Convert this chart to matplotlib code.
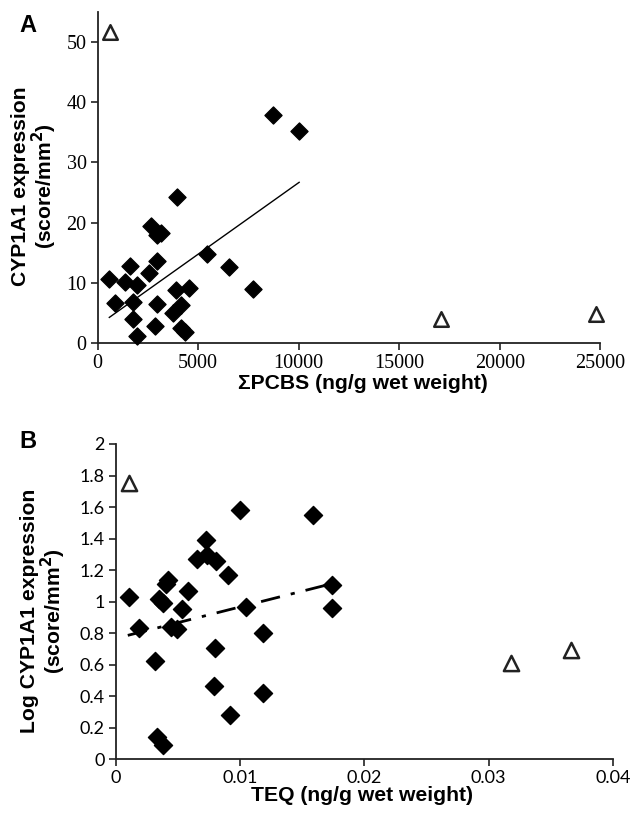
import numpy as np
import matplotlib
matplotlib.use("Agg")
import matplotlib.pyplot as plt

# Panel A: sum of PCBs vs CYP1A1 expression
pcb_x = [540, 840, 1340, 1600, 1940, 1740, 1740, 1940, 2540, 2640, 2940, 3140,
         2940, 2940, 2840, 3930, 3890, 4530, 4130, 3770, 4130, 4330, 5430, 6530,
         7730, 8730, 10020]
pcb_y = [10.6, 6.7, 10.2, 12.8, 9.6, 6.9, 4.1, 1.2, 11.6, 19.5, 17.9, 18.3,
         13.6, 6.6, 2.9, 24.2, 8.9, 9.1, 6.3, 5.0, 2.5, 1.9, 14.8, 12.7,
         9.0, 37.9, 35.2]
pcb_out_x = [600, 17050, 24800]
pcb_out_y = [51.7, 4.1, 4.8]
pcb_fit_x = [580, 10020]
pcb_fit_y = [4.3, 26.7]

# Panel B: TEQ vs log CYP1A1 expression
teq_x = [0.00103, 0.00184, 0.00346, 0.00378, 0.0042, 0.00404, 0.00579, 0.0053,
         0.00443, 0.00492, 0.0032, 0.0033, 0.00378, 0.00653, 0.00724, 0.00734,
         0.00808, 0.00905, 0.00999, 0.01048, 0.00799, 0.00789, 0.00918, 0.01187,
         0.01187, 0.01591, 0.01743, 0.01743]
teq_y = [1.032, 0.831, 1.015, 0.994, 1.137, 1.11, 1.07, 0.951, 0.841, 0.829,
         0.624, 0.144, 0.091, 1.268, 1.391, 1.296, 1.258, 1.169, 1.581, 0.964,
         0.704, 0.465, 0.281, 0.803, 0.419, 1.55, 1.106, 0.958]
teq_out_x = [0.0011, 0.0318, 0.0366]
teq_out_y = [1.75, 0.609, 0.693]
teq_fit_x = [0.00097, 0.0172]
teq_fit_y = [0.786, 1.11]

W, H = 630, 821
fig = plt.figure(figsize=(W / 100, H / 100), dpi=100)

label_font = dict(family="Liberation Sans", weight="bold", size=15.2)


def px_text(x, y, s, **kw):
    # place text using pixel coords from the top-left corner
    fig.text(x / W, 1 - y / H, s, ha="center", va="center", **kw)


# ---- panel A
axA = fig.add_axes([0.155, 0.5818, 0.798, 0.404])
axA.scatter(pcb_x, pcb_y, marker="D", s=75, color="black", zorder=3)
axA.scatter(pcb_out_x, pcb_out_y, marker="^", s=110, facecolor="white",
            edgecolor="#222222", linewidth=1.8, zorder=3)
axA.plot(pcb_fit_x, pcb_fit_y, color="black", lw=1.0)
axA.set_xlim(0, 25000)
axA.set_ylim(0, 55)
axA.set_xticks([0, 5000, 10000, 15000, 20000, 25000])
axA.set_yticks([0, 10, 20, 30, 40, 50])
for lab in axA.get_xticklabels() + axA.get_yticklabels():
    lab.set_fontfamily("Liberation Serif")
    lab.set_fontsize(14.5)

px_text(363, 383, "ΣPCBS (ng/g wet weight)", **label_font)
px_text(21, 186, "CYP1A1 expression", rotation=90, **label_font)
px_text(44, 186, "(score/mm$^\\mathbf{2}$)", rotation=90, **label_font)
px_text(28, 25, "A", family="Liberation Sans", weight="bold", size=17)

# ---- panel B
axB = fig.add_axes([0.1837, 0.0752, 0.789, 0.384])
axB.scatter(teq_x, teq_y, marker="D", s=85, color="black", zorder=3)
axB.scatter(teq_out_x, teq_out_y, marker="^", s=120, facecolor="white",
            edgecolor="#222222", linewidth=1.8, zorder=3)
axB.plot(teq_fit_x, teq_fit_y, color="black", lw=2.0, dashes=(7, 4, 1.5, 4))
axB.set_xlim(0, 0.04)
axB.set_ylim(0, 2)
axB.set_xticks([0, 0.01, 0.02, 0.03, 0.04])
axB.set_xticklabels(["0", "0.01", "0.02", "0.03", "0.04"])
axB.set_yticks([0, 0.2, 0.4, 0.6, 0.8, 1.0, 1.2, 1.4, 1.6, 1.8, 2.0])
axB.set_yticklabels(["0", "0.2", "0.4", "0.6", "0.8", "1", "1.2", "1.4", "1.6", "1.8", "2"])
for lab in axB.get_xticklabels() + axB.get_yticklabels():
    lab.set_fontfamily("Lato")
    lab.set_fontsize(13)

px_text(362, 795, "TEQ (ng/g wet weight)", **label_font)
px_text(30, 611, "Log CYP1A1 expression", rotation=90, **label_font)
px_text(53, 611, "(score/mm$^\\mathbf{2}$)", rotation=90, **label_font)
px_text(28, 442, "B", family="Liberation Sans", weight="bold", size=17)

for ax in (axA, axB):
    ax.spines["top"].set_visible(False)
    ax.spines["right"].set_visible(False)
    ax.spines["left"].set_color("#222222")
    ax.spines["bottom"].set_color("#222222")
    ax.spines["left"].set_linewidth(1.3)
    ax.spines["bottom"].set_linewidth(1.3)
    ax.tick_params(direction="out", length=5, width=1.2, color="#222222", pad=3)
    for c in ax.collections:
        c.set_clip_on(False)

fig.savefig("out.png", dpi=100)
